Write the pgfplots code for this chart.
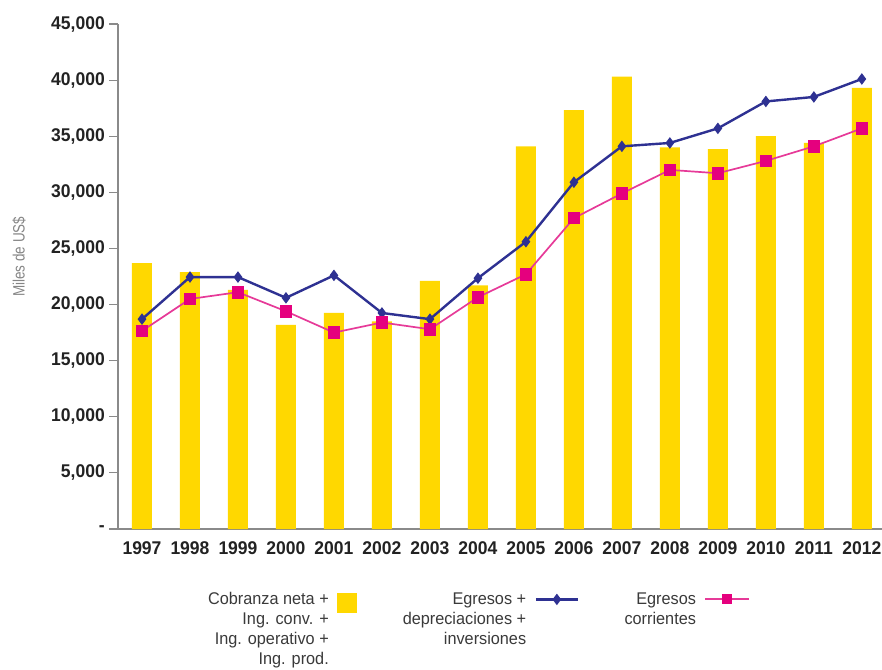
\documentclass[border=0pt]{standalone}
\usepackage{pgfplots}
\usepackage{pgfplotstable}
\pgfplotsset{compat=1.18}
\usepackage{fontspec}
\setmainfont{Liberation Sans}
\newfontfamily\tickfont{Liberation Sans}[FakeStretch=0.95]
\newfontfamily\condfont{Liberation Sans}[FakeStretch=0.96]
\newfontfamily\labfont{Liberation Sans}[FakeStretch=0.82]

\definecolor{barY}{HTML}{FFD800}
\definecolor{navy}{HTML}{2E3192}
\definecolor{mag}{HTML}{E5007E}
\definecolor{magline}{HTML}{E63A98}
\definecolor{axgray}{HTML}{8A8A8A}
\definecolor{ticktxt}{HTML}{222222}
\definecolor{legtxt}{HTML}{3A3A3A}
\definecolor{labgray}{HTML}{858585}

% x: 0 = 1997 ... 15 = 2012 (miles de US$)
\pgfplotstableread{
x  cob    egdep  egcor
0  23700  18700  17650
1  22900  22450  20500
2  21300  22450  21100
3  18200  20600  19400
4  19250  22600  17500
5  18500  19250  18400
6  22100  18700  17800
7  21700  22350  20650
8  34100  25600  22700
9  37330  30900  27700
10 40300  34100  29900
11 34000  34400  32000
12 33850  35700  31700
13 35000  38100  32800
14 34400  38500  34100
15 39300  40100  35700
}\datos

\begin{document}
\begin{tikzpicture}
\begin{axis}[
  at={(0,0)}, anchor=south west,
  scale only axis, width=764bp, height=505bp,
  xmin=-0.5, xmax=15.42, ymin=0, ymax=45000,
  clip=false,
  axis lines*=left,
  axis line style={axgray, line width=2bp},
  tick align=outside,
  scaled y ticks=false,
  ytick={0,5000,10000,15000,20000,25000,30000,35000,40000,45000},
  yticklabels={-,{5,000},{10,000},{15,000},{20,000},{25,000},{30,000},{35,000},{40,000},{45,000}},
  xtick={0,...,15},
  xticklabels={1997,1998,1999,2000,2001,2002,2003,2004,2005,2006,2007,2008,2009,2010,2011,2012},
  minor xtick={-0.5,0.5,...,15.5},
  x tick style={draw=none},
  minor x tick style={axgray, line width=1.2bp},
  y tick style={axgray, line width=1.2bp},
  major tick length=9bp,
  minor tick length=5bp,
  ticklabel style={font=\tickfont\bfseries\fontsize{18.5}{21}\selectfont, text=ticktxt},
  yticklabel style={inner sep=4bp},
  xticklabel style={inner sep=3bp},
  ylabel={Miles de US\$},
  every axis y label/.style={at={(axis description cs:-0.1296,0.539)}, rotate=90, anchor=center,
    font=\labfont\fontsize{16.5}{18}\selectfont, text=labgray},
  legend plot pos=right,
  legend cell align=right,
  legend columns=3,
  legend style={at={(axis description cs:0.116,-0.123)}, anchor=north west,
    draw=none, fill=none, inner sep=0pt, outer sep=0pt,
    font=\condfont\fontsize{17}{20}\selectfont, text=legtxt,
    nodes={align=right, inner sep=1.5bp},
    /tikz/every odd column/.append style={column sep=7bp},
    /tikz/every even column/.append style={column sep=44bp}},
]
\addplot[ybar, bar width=20bp, fill=barY, draw=none,
  legend image code/.code={\fill[barY] (0bp,16.5bp) rectangle (20bp,36.5bp);}]
  table[x=x, y=cob] {\datos};
\addlegendentry{Cobranza neta +\\Ing. conv. +\\Ing. operativo +\\Ing. prod.}

\addplot[navy, line width=2.4bp, mark=diamond*, mark size=5bp, mark options={fill=navy, line width=1bp},
  legend image code/.code={\draw[navy, line width=2.4bp, mark repeat=2, mark phase=2, mark size=3.8bp,
      mark options={fill=navy, draw=navy}]
    plot coordinates {(0bp,30bp) (21bp,30bp) (42bp,30bp)};}]
  table[x=x, y=egdep] {\datos};
\addlegendentry{Egresos +\\depreciaciones +\\inversiones\\\strut}

\addplot[magline, line width=1.7bp, mark=square*, mark size=5.5bp, mark options={fill=mag, draw=mag},
  legend image code/.code={\draw[magline, line width=2bp, mark repeat=2, mark phase=2, mark size=4bp,
      mark options={fill=mag, draw=mag}]
    plot coordinates {(0bp,30bp) (22bp,30bp) (44bp,30bp)};}]
  table[x=x, y=egcor] {\datos};
\addlegendentry{Egresos\\corrientes\\\strut\\\strut}
\end{axis}
\pgfresetboundingbox
\useasboundingbox (-118bp,-141bp) rectangle (764bp,529bp);
\end{tikzpicture}
\end{document}
